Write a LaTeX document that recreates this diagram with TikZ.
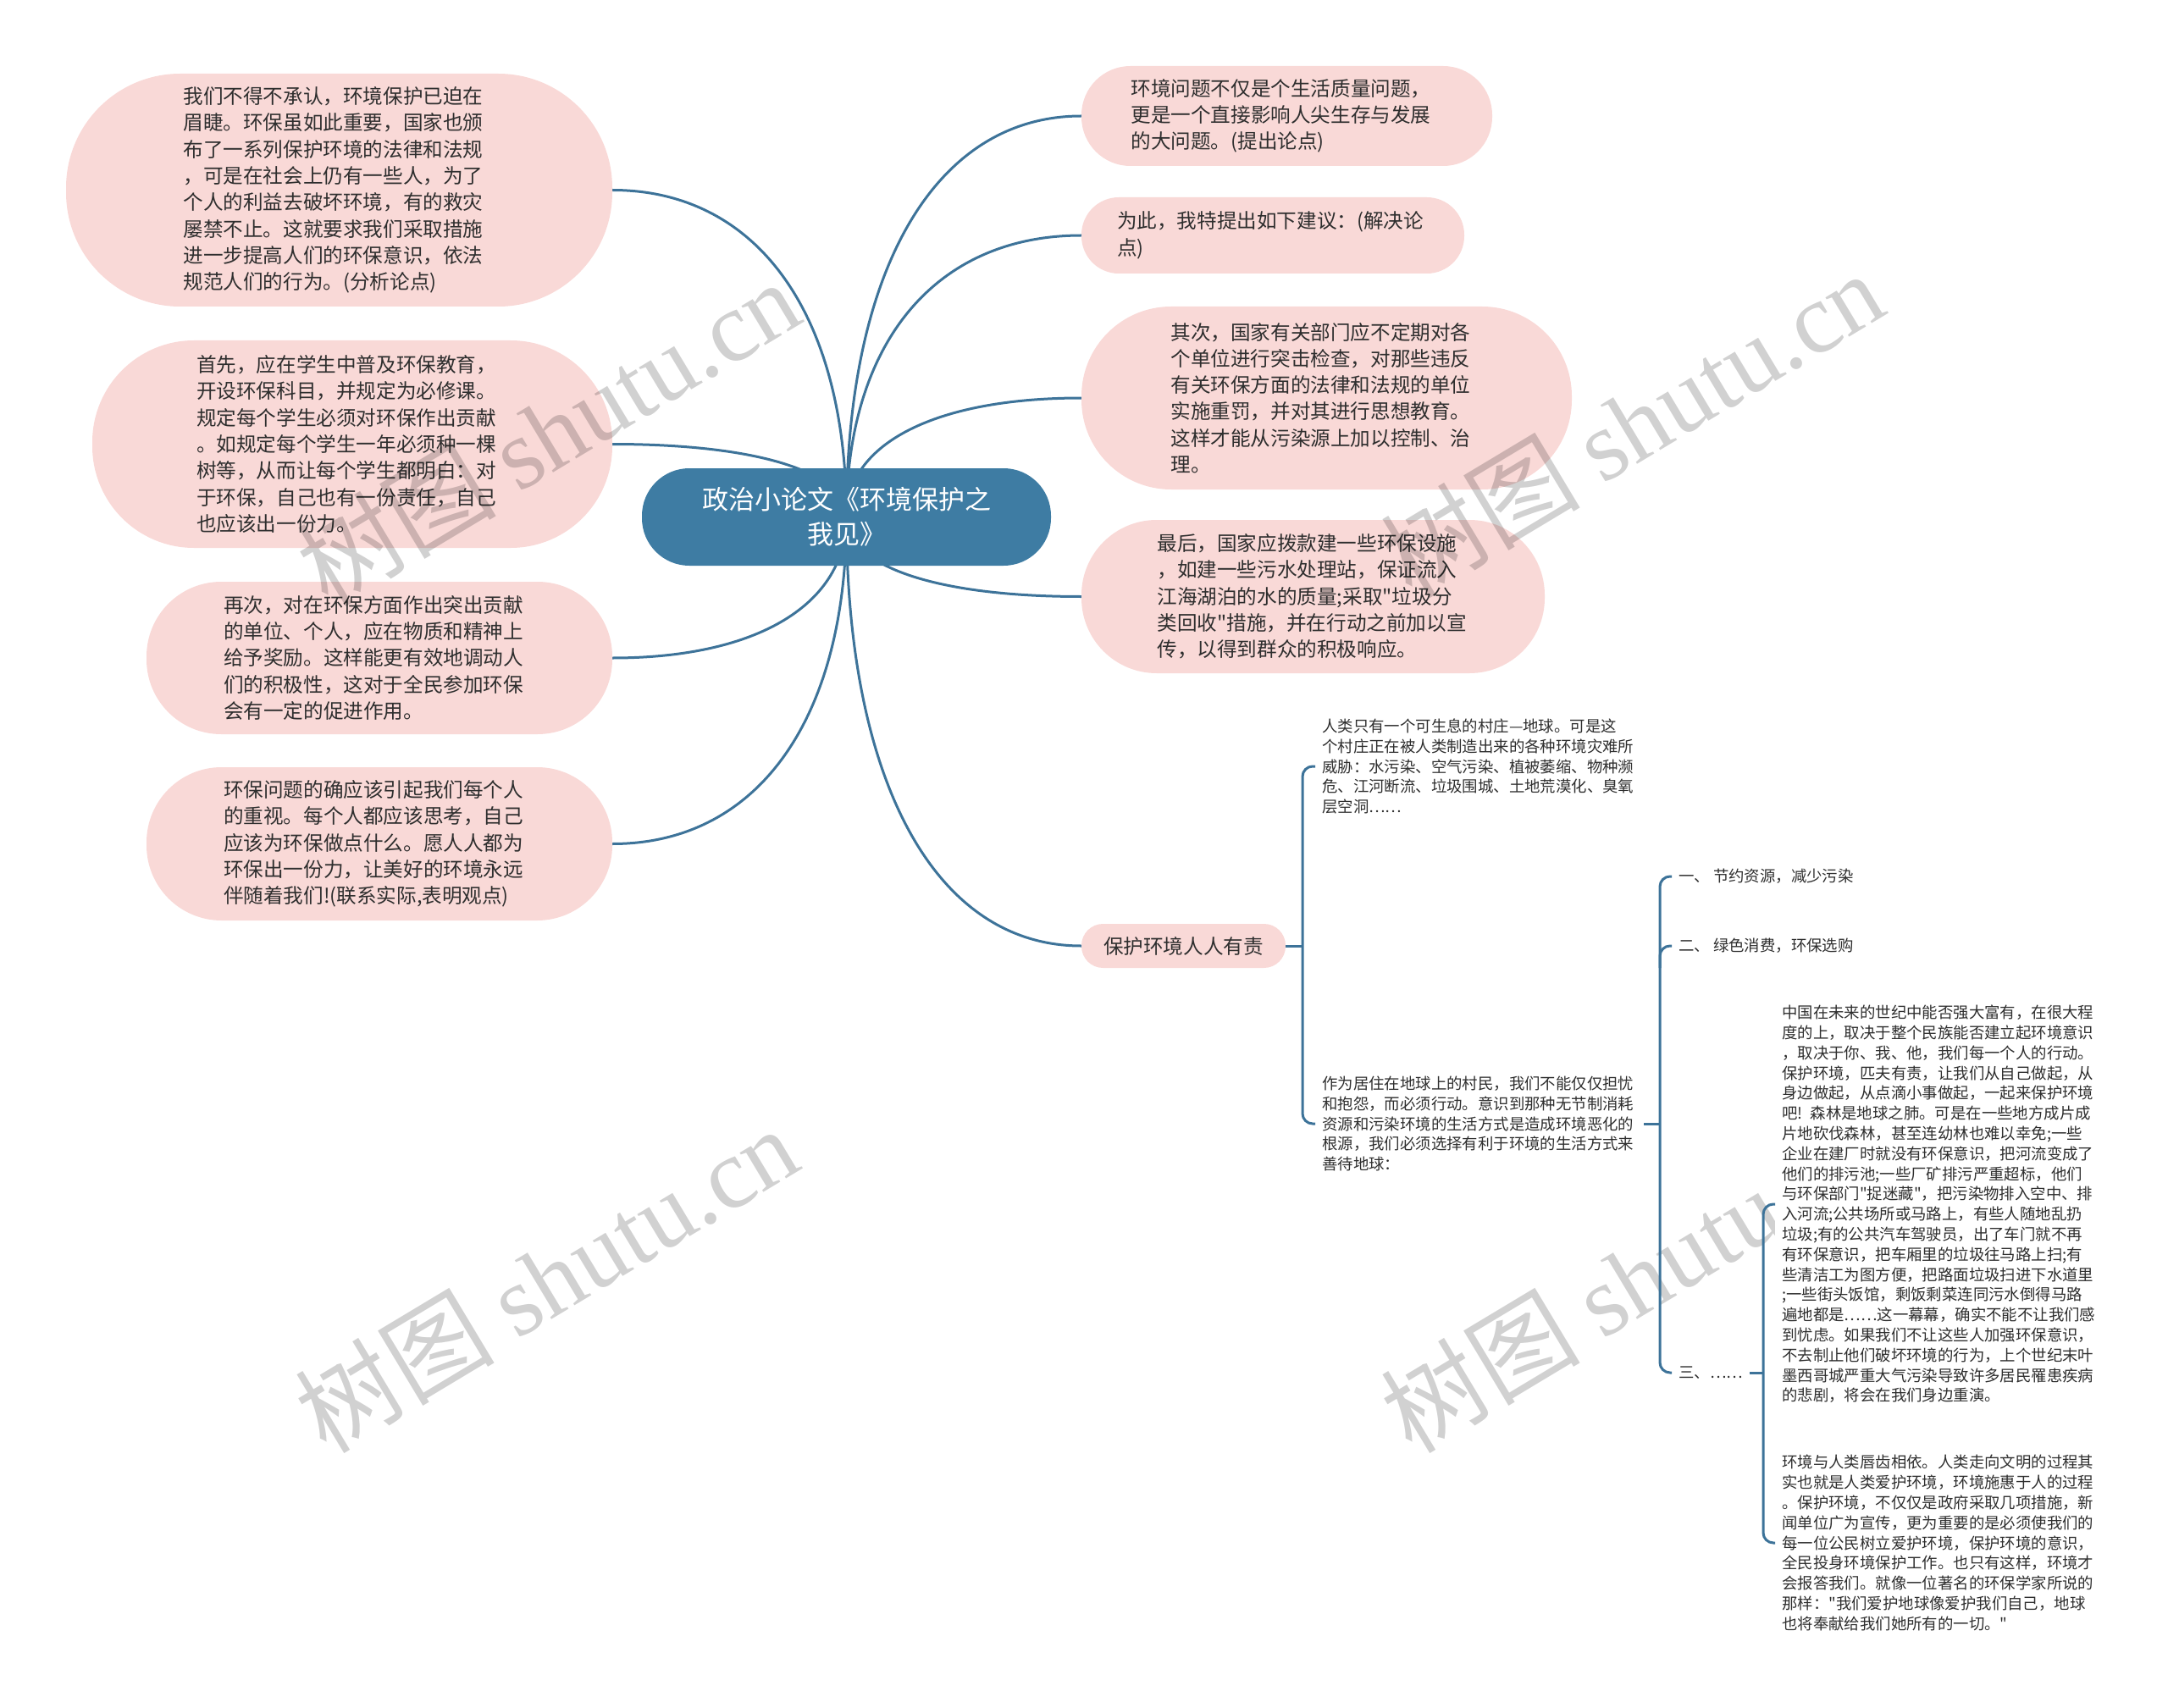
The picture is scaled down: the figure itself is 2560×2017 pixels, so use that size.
\documentclass[tikz,border=0pt]{standalone}
\usepackage{fontspec}
\setmainfont{Noto Sans CJK SC}[Ligatures=TeXOff]
\newfontfamily\wmfont{Liberation Serif}
\usetikzlibrary{calc,backgrounds}

\definecolor{topicblue}{HTML}{3E7CA3}
\definecolor{linkblue}{HTML}{3D7399}
\definecolor{boxpink}{HTML}{F9D9D7}
\definecolor{inktext}{HTML}{2E2E2E}

\tikzset{
    topic/.style={fill=topicblue, text=white, align=center, inner sep=0pt,
        minimum width=483pt, minimum height=115pt, rounded corners=56pt,
        font=\fontsize{31pt}{41pt}\selectfont},
    bubble/.style={fill=boxpink, text=inktext, inner sep=0pt,
        minimum height=#1, rounded corners=0.49*#1,
        font=\fontsize{23.6pt}{31.3pt}\selectfont},
    para/.style={align=left, text width=368pt},
    note/.style={anchor=west, align=left, text=inktext, inner xsep=8pt,
        text width=372pt, font=\fontsize{18.4pt}{23.8pt}\selectfont},
    item/.style={anchor=west, text=inktext, inner xsep=8pt,
        font=\fontsize{18.4pt}{23.8pt}\selectfont},
    link/.style={draw=linkblue, line width=3pt},
    branch/.style={link, to path={.. controls ($(\tikztostart)!0.62!(\tikztostart |- \tikztotarget)$)
        and ($(\tikztotarget)!0.62!(\tikztostart |- \tikztotarget)$) .. (\tikztotarget)}},
    wmark/.style={text=black, text opacity=0.18, rotate=31, inner sep=0pt,
        font=\fontsize{118pt}{118pt}\selectfont}
}

\begin{document}
\begin{tikzpicture}[x=1pt, y=-1pt]

    % the frame
    \useasboundingbox (0,0) rectangle (2560,2017);

    % the topic
    \node[topic] (c) at (999.5,610.5) {政治小论文《环境保护之\\我见》};

    % left side
    \node[bubble=275pt, para, minimum width=645pt] (l1) at (400.5,224.5) {我们不得不承认，环境保护已迫在\\眉睫。环保虽如此重要，国家也颁\\布了一系列保护环境的法律和法规\\，可是在社会上仍有一些人，为了\\个人的利益去破坏环境，有的救灾\\屡禁不止。这就要求我们采取措施\\进一步提高人们的环保意识，依法\\规范人们的行为。(分析论点)};
    \node[bubble=245pt, para, minimum width=614pt] (l2) at (416,524.5) {首先，应在学生中普及环保教育，\\开设环保科目，并规定为必修课。\\规定每个学生必须对环保作出贡献\\。如规定每个学生一年必须种一棵\\树等，从而让每个学生都明白：对\\于环保，自己也有一份责任，自己\\也应该出一份力。};
    \node[bubble=180pt, para, minimum width=550pt] (l3) at (448,777) {再次，对在环保方面作出突出贡献\\的单位、个人，应在物质和精神上\\给予奖励。这样能更有效地调动人\\们的积极性，这对于全民参加环保\\会有一定的促进作用。};
    \node[bubble=181pt, para, minimum width=550pt] (l4) at (448,996.5) {环保问题的确应该引起我们每个人\\的重视。每个人都应该思考，自己\\应该为环保做点什么。愿人人都为\\环保出一份力，让美好的环境永远\\伴随着我们!(联系实际,表明观点)};

    % right side
    \node[bubble=118pt, para, minimum width=485pt] (r1) at (1519.5,137) {环境问题不仅是个生活质量问题，\\更是一个直接影响人尖生存与发展\\的大问题。(提出论点)};
    \node[bubble=90pt, para, minimum width=452pt] (r2) at (1503,278) {为此，我特提出如下建议：(解决论\\点)};
    \node[bubble=216pt, para, minimum width=579pt] (r3) at (1566.5,470) {其次，国家有关部门应不定期对各\\个单位进行突击检查，对那些违反\\有关环保方面的法律和法规的单位\\实施重罚，并对其进行思想教育。\\这样才能从污染源上加以控制、治\\理。};
    \node[bubble=181pt, para, minimum width=547pt] (r4) at (1550.5,704.5) {最后，国家应拨款建一些环保设施\\，如建一些污水处理站，保证流入\\江海湖泊的水的质量;采取"垃圾分\\类回收"措施，并在行动之前加以宣\\传，以得到群众的积极响应。};
    \node[bubble=52pt, minimum width=241pt] (r5) at (1397.5,1117) {保护环境人人有责};

    % the tree below
    \node[note] (s1) at (1553,905) {人类只有一个可生息的村庄—地球。可是这\\个村庄正在被人类制造出来的各种环境灾难所\\威胁：水污染、空气污染、植被萎缩、物种濒\\危、江河断流、垃圾围城、土地荒漠化、臭氧\\层空洞……};
    \node[note] (s2) at (1553,1327) {作为居住在地球上的村民，我们不能仅仅担忧\\和抱怨，而必须行动。意识到那种无节制消耗\\资源和污染环境的生活方式是造成环境恶化的\\根源，我们必须选择有利于环境的生活方式来\\善待地球：};
    \node[item] (i1) at (1974,1035) {一、 节约资源，减少污染};
    \node[item] (i2) at (1974,1117) {二、 绿色消费，环保选购};
    \node[item] (i3) at (1974,1621) {三、……};
    \node[note, fill=white] (d1) at (2096,1422) {中国在未来的世纪中能否强大富有，在很大程\\度的上，取决于整个民族能否建立起环境意识\\，取决于你、我、他，我们每一个人的行动。\\保护环境，匹夫有责，让我们从自己做起，从\\身边做起，从点滴小事做起，一起来保护环境\\吧! 森林是地球之肺。可是在一些地方成片成\\片地砍伐森林，甚至连幼林也难以幸免;一些\\企业在建厂时就没有环保意识，把河流变成了\\他们的排污池;一些厂矿排污严重超标，他们\\与环保部门"捉迷藏"，把污染物排入空中、排\\入河流;公共场所或马路上，有些人随地乱扔\\垃圾;有的公共汽车驾驶员，出了车门就不再\\有环保意识，把车厢里的垃圾往马路上扫;有\\些清洁工为图方便，把路面垃圾扫进下水道里\\;一些街头饭馆，剩饭剩菜连同污水倒得马路\\遍地都是……这一幕幕，确实不能不让我们感\\到忧虑。如果我们不让这些人加强环保意识，\\不去制止他们破坏环境的行为，上个世纪末叶\\墨西哥城严重大气污染导致许多居民罹患疾病\\的悲剧，将会在我们身边重演。};
    \node[note] (d2) at (2096,1822) {环境与人类唇齿相依。人类走向文明的过程其\\实也就是人类爱护环境，环境施惠于人的过程\\。保护环境，不仅仅是政府采取几项措施，新\\闻单位广为宣传，更为重要的是必须使我们的\\每一位公民树立爱护环境，保护环境的意识，\\全民投身环境保护工作。也只有这样，环境才\\会报答我们。就像一位著名的环保学家所说的\\那样："我们爱护地球像爱护我们自己，地球\\也将奉献给我们她所有的一切。"};

    % joints of the brackets
    \coordinate (ja) at (1538,1117);
    \coordinate (jb) at (1960,1327);
    \coordinate (jc) at (2082,1621);

    % the links
    \begin{scope}[on background layer]
        \foreach \n in {l1,l2,l3,l4} {
            \draw[branch] (c.center) to (\n.east);
        }
        \foreach \n in {r1,r2,r3,r4,r5} {
            \draw[branch] (c.center) to (\n.west);
        }
        \node[wmark] (w4) at (1927,1510) {树图 {\wmfont shutu.cn}};
    \end{scope}

    \draw[link] (r5.east) -- (ja);
    \draw[link, rounded corners=12pt] (s1.west) -| (ja) |- (s2.west);
    \draw[link] (s2.east) -- (jb);
    \draw[link, rounded corners=12pt] (i1.west) -| (jb) |- (i3.west);
    \draw[link, rounded corners=12pt] (i2.west) -| ($(jb |- i2.west)+(0,26)$);
    \draw[link] (i3.east) -- (jc);
    \draw[link, rounded corners=12pt] (d1.west) -| (jc) |- (d2.west);

    % watermark
    \node[wmark] (w1) at (647,510) {树图 {\wmfont shutu.cn}};
    \node[wmark] (w2) at (1927,500) {树图 {\wmfont shutu.cn}};
    \node[wmark] (w3) at (645,1510) {树图 {\wmfont shutu.cn}};

\end{tikzpicture}
\end{document}
